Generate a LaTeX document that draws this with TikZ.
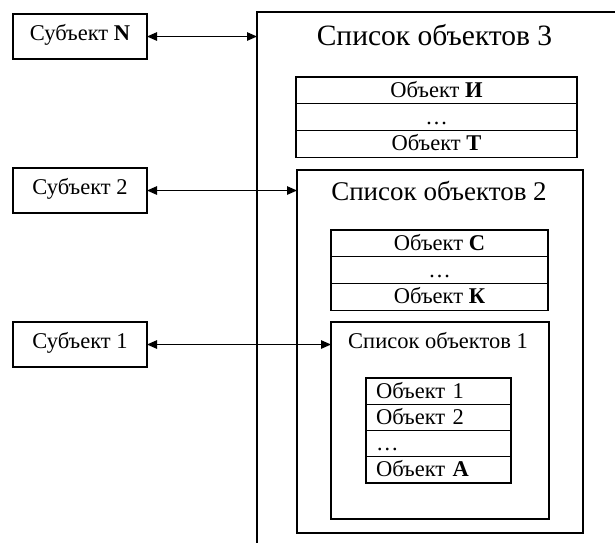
\documentclass[tikz,border=0pt]{standalone}
\usepackage{fontspec}
\setmainfont{Liberation Serif}
\usetikzlibrary{arrows.meta}

\newcommand\txtbody{\fontsize{22.5}{25}\selectfont}
\newcommand\txtlistA{\fontsize{29.5}{32}\selectfont}
\newcommand\txtlistB{\fontsize{27}{30}\selectfont}
\newcommand\txtlistC{\fontsize{22.5}{26}\selectfont}

\tikzset{
  frame/.style={draw, line width=1.2pt, inner sep=0pt, outer sep=0pt, anchor=north west},
  subj/.style={frame, minimum width=134, minimum height=45,
    text height=15pt, text depth=8pt, font=\txtbody},
  cell/.style={frame, text height=16pt, text depth=2pt, font=\txtbody},
  cellL/.style={cell, minimum height=26.25, text width=125pt, inner xsep=10pt, align=left},
  listtitle/.style={anchor=base, inner sep=0pt},
  link/.style={line width=1.2pt, {Triangle[length=10pt,width=8.5pt]}-{Triangle[length=10pt,width=8.5pt]}}
}

\begin{document}
\begin{tikzpicture}[x=1pt, y=-1pt]
  \clip (0,0) rectangle (615,542);
  \fill[white] (0,0) rectangle (615,542);

  % subjects
  \node[subj] (sN) at (13,14)  {Субъект \textbf{N}};
  \node[subj] (s2) at (13,168) {Субъект 2};
  \node[subj] (s1) at (13,322) {Субъект 1};

  % object list 3 (runs past the right and bottom edges)
  \node[frame, minimum width=420, minimum height=600] (l3) at (257,12) {};
  \node[listtitle, font=\txtlistA] (l3t) at (434.5,45) {Список объектов 3};
  \begin{scope}[every node/.append style={cell, minimum width=281, minimum height=26.7}]
    \node (l3a) at (296,77)        {Объект \textbf{И}};
    \node (l3b) at (l3a.south west) {…};
    \node (l3c) at (l3b.south west) {Объект \textbf{Т}};
  \end{scope}

  % object list 2
  \node[frame, minimum width=286, minimum height=363] (l2) at (297,170) {};
  \node[listtitle, font=\txtlistB] (l2t) at (439,200) {Список объектов 2};
  \begin{scope}[every node/.append style={cell, minimum width=217, minimum height=26.7}]
    \node (l2a) at (331,230)        {Объект \textbf{С}};
    \node (l2b) at (l2a.south west) {…};
    \node (l2c) at (l2b.south west) {Объект \textbf{К}};
  \end{scope}

  % object list 1
  \node[frame, minimum width=218, minimum height=197] (l1) at (331,322) {};
  \node[listtitle, font=\txtlistC] (l1t) at (438,348) {Список объектов 1};
  \node[cellL] (l1a) at (366,378)        {Объект 1};
  \node[cellL] (l1b) at (l1a.south west) {Объект 2};
  \node[cellL] (l1c) at (l1b.south west) {…};
  \node[cellL] (l1d) at (l1c.south west) {Объект \textbf{А}};

  % access links
  \draw[link] (sN.east) -- (sN.east -| l3.west);
  \draw[link] (s2.east) -- (s2.east -| l2.west);
  \draw[link] (s1.east) -- (s1.east -| l1.west);
\end{tikzpicture}
\end{document}
